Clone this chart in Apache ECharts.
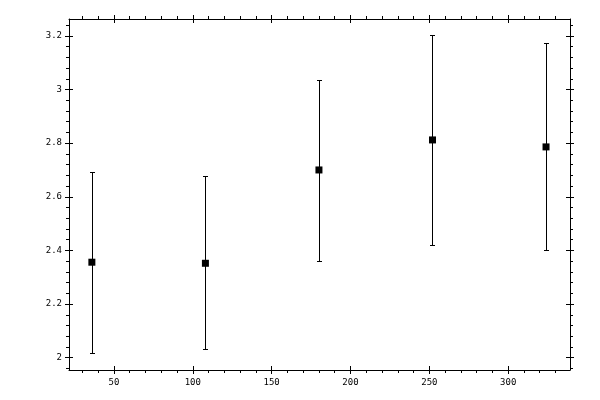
<!DOCTYPE html>
<html>
<head>
<meta charset="utf-8">
<script src="https://cdn.jsdelivr.net/npm/echarts@6.0.0/dist/echarts.min.js"></script>
<style>
  html, body { margin: 0; padding: 0; background: #fff; }
  #chart { width: 600px; height: 400px; }
</style>
</head>
<body>
<div id="chart"></div>
<script>
// measured points: x position, mean, lower and upper end of the error bar
var xValues = [36, 108, 180, 252, 324];
var means = [2.356, 2.352, 2.700, 2.812, 2.786];
var lows = [2.016, 2.031, 2.360, 2.420, 2.401];
var highs = [2.692, 2.678, 3.036, 3.204, 3.172];

// ticks
var xTicks = [50, 100, 150, 200, 250, 300];
var xMinor = [30, 40, 60, 70, 80, 90, 110, 120, 130, 140, 160, 170, 180, 190,
  210, 220, 230, 240, 260, 270, 280, 290, 310, 320, 330];
var yTicks = [2, 2.2, 2.4, 2.6, 2.8, 3, 3.2];
var yMinor = [1.96, 2.04, 2.08, 2.12, 2.16, 2.24, 2.28, 2.32, 2.36, 2.44, 2.48, 2.52, 2.56,
  2.64, 2.68, 2.72, 2.76, 2.84, 2.88, 2.92, 2.96, 3.04, 3.08, 3.12, 3.16, 3.24];

// visible range of the frame
var xRange = [21.5, 339.2];
var yRange = [1.954, 3.263];

var labelFont = {
  color: '#000',
  fontFamily: 'DejaVu Sans Mono',
  fontSize: 9
};

// one axis layer: a set of ticks on one side of the frame
function axisLayer(position, range, ticks, len, inside, withLine, withLabels) {
  var axis = {
    type: 'value',
    position: position,
    min: range[0],
    max: range[1],
    offset: 0,
    axisLine: { show: withLine, onZero: false, lineStyle: { color: '#000', width: 1 } },
    axisTick: { show: true, inside: inside, length: len, customValues: ticks,
      lineStyle: { color: '#000', width: 1 } },
    axisLabel: { show: false },
    splitLine: { show: false }
  };
  if (withLabels) {
    axis.axisLabel = Object.assign({
      show: true,
      customValues: ticks,
      margin: position === 'left' ? 7 : 8
    }, labelFont);
  }
  return axis;
}

var xAxes = [
  axisLayer('bottom', xRange, xTicks, 4, false, true, true),
  axisLayer('bottom', xRange, xTicks, 4, true, false, false),
  axisLayer('bottom', xRange, xMinor, 3, false, false, false),
  axisLayer('top', xRange, xTicks, 4, false, true, false),
  axisLayer('top', xRange, xTicks, 4, true, false, false),
  axisLayer('top', xRange, xMinor, 3, false, false, false)
];
var yAxes = [
  axisLayer('left', yRange, yTicks, 4, false, true, true),
  axisLayer('left', yRange, yTicks, 4, true, false, false),
  axisLayer('left', yRange, yMinor, 3, false, false, false),
  axisLayer('right', yRange, yTicks, 4, false, true, false),
  axisLayer('right', yRange, yTicks, 4, true, false, false),
  axisLayer('right', yRange, yMinor, 3, false, false, false)
];

var pointData = xValues.map(function (x, i) { return [x, means[i]]; });
var barData = xValues.map(function (x, i) { return [x, lows[i], highs[i]]; });

var chart = echarts.init(document.getElementById('chart'), null, { renderer: 'canvas' });

chart.setOption({
  animation: false,
  backgroundColor: '#fff',
  grid: { left: 69, right: 30, top: 19, bottom: 30, containLabel: false },
  xAxis: xAxes,
  yAxis: yAxes,
  series: [
    {
      type: 'custom',
      xAxisIndex: 0,
      yAxisIndex: 0,
      data: barData,
      renderItem: function (params, api) {
        var x = api.value(0);
        var lo = api.coord([x, api.value(1)]);
        var hi = api.coord([x, api.value(2)]);
        var px = Math.round(lo[0]) + 0.5;
        var y1 = Math.round(lo[1]) + 0.5;
        var y2 = Math.round(hi[1]) + 0.5;
        var w = 2.5;
        var style = { stroke: '#000', lineWidth: 1 };
        return {
          type: 'group',
          children: [
            { type: 'line', shape: { x1: px, y1: y1, x2: px, y2: y2 }, style: style },
            { type: 'line', shape: { x1: px - w, y1: y1, x2: px + w, y2: y1 }, style: style },
            { type: 'line', shape: { x1: px - w, y1: y2, x2: px + w, y2: y2 }, style: style }
          ]
        };
      },
      z: 2
    },
    {
      type: 'scatter',
      xAxisIndex: 0,
      yAxisIndex: 0,
      symbol: 'rect',
      symbolSize: 7,
      itemStyle: { color: '#000', opacity: 1 },
      data: pointData,
      z: 3
    }
  ]
});
</script>
</body>
</html>
